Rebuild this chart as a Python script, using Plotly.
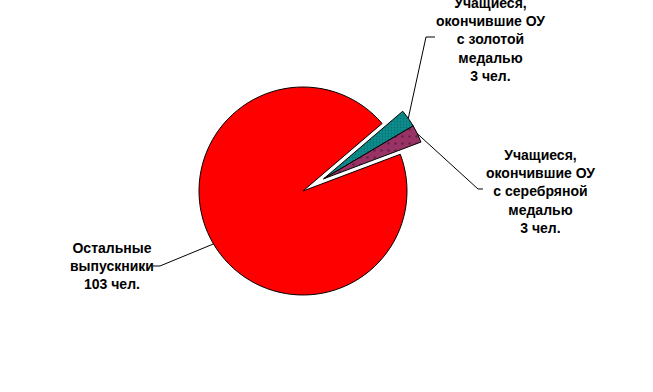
import math
import plotly.graph_objects as go

# ---- data ----
labels = ["Учащиеся, окончившие ОУ с золотой медалью",
          "Учащиеся, окончившие ОУ с серебряной медалью",
          "Остальные выпускники"]
values = [3, 3, 103]
label_texts = ["Учащиеся,<br>окончившие ОУ<br>с золотой<br>медалью<br>3 чел.",
               "Учащиеся,<br>окончившие ОУ<br>с серебряной<br>медалью<br>3 чел.",
               "Остальные<br>выпускники<br>103 чел."]
colors = ["#0b8d8d", "#993366", "#ff0000"]
pulled = [True, True, False]

# ---- layout / style ----
W, H = 653, 392
CX, CY, R = 303, 191, 104          # pie centre and radius in pixels
ROTATION = 49.5
PULL_PX = 24
# label block centres (px) and leader elbows (px)
label_pos = [(490, 39), (540, 191.5), (112, 265.5)]
elbows = [[(426, 37), (435, 37)], [(478, 189), (483, 189)], [(160, 266), (153, 266)]]

total = sum(values)
a0 = 90 - ROTATION
cum = [0]
for v in values:
    cum.append(cum[-1] + v)
mids = [a0 - 360 * (cum[i] + cum[i + 1]) / 2 / total for i in range(len(values))]
p_idx = [i for i in range(len(values)) if pulled[i]]
b = a0 - 360 * (cum[min(p_idx)] + cum[max(p_idx) + 1]) / 2 / total
dx = PULL_PX * math.cos(math.radians(b))
dy = -PULL_PX * math.sin(math.radians(b))


def dom(cx, cy):
    return dict(x=[(cx - R) / W, (cx + R) / W],
                y=[(H - cy - R) / H, (H - cy + R) / H])


def px(x, y):
    return x / W, (H - y) / H


clear = "rgba(0,0,0,0)"
fig = go.Figure()
fig.add_trace(go.Pie(
    labels=labels, values=values, sort=False, direction="clockwise",
    rotation=ROTATION, textinfo="none", hoverinfo="label+value",
    domain=dom(CX, CY), showlegend=False,
    marker=dict(colors=[clear if p else c for c, p in zip(colors, pulled)],
                line=dict(color="black", width=[0 if p else 1 for p in pulled]))))
fig.add_trace(go.Pie(
    labels=labels, values=values, sort=False, direction="clockwise",
    rotation=ROTATION, textinfo="none", hoverinfo="label+value",
    domain=dom(CX + dx, CY + dy), showlegend=False,
    marker=dict(colors=[c if p else clear for c, p in zip(colors, pulled)],
                line=dict(color="black", width=[1 if p else 0 for p in pulled]),
                pattern=dict(shape=[".", ".", ""], fillmode="overlay",
                             bgcolor=[colors[0], colors[1], clear],
                             fgcolor=["#0a5a5a", "#3a1030", clear],
                             size=[3, 7, 8], solidity=[0.3, 0.12, 0.1]))))

shapes = []
annotations = []
for i in range(len(values)):
    ox, oy = (dx, dy) if pulled[i] else (0, 0)
    sx = CX + ox + R * math.cos(math.radians(mids[i]))
    sy = CY + oy - R * math.sin(math.radians(mids[i]))
    pts = [(sx, sy)] + elbows[i]
    path = ""
    for k, (x, y) in enumerate(pts):
        X, Y = px(x, y)
        path += ("M" if k == 0 else " L") + f" {X:.5f},{Y:.5f}"
    shapes.append(dict(type="path", xref="paper", yref="paper", path=path,
                       line=dict(color="black", width=1)))
    lx, ly = px(*label_pos[i])
    annotations.append(dict(x=lx, y=ly, xref="paper", yref="paper", text=label_texts[i],
                            showarrow=False, xanchor="center", yanchor="middle", align="center",
                            font=dict(family="Liberation Sans, Arial", size=14, color="black",
                                      weight="bold")))

fig.update_layout(width=W, height=H, margin=dict(l=0, r=0, t=0, b=0),
                  paper_bgcolor="white", plot_bgcolor="white",
                  shapes=shapes, annotations=annotations)
fig.write_html("out.html")
